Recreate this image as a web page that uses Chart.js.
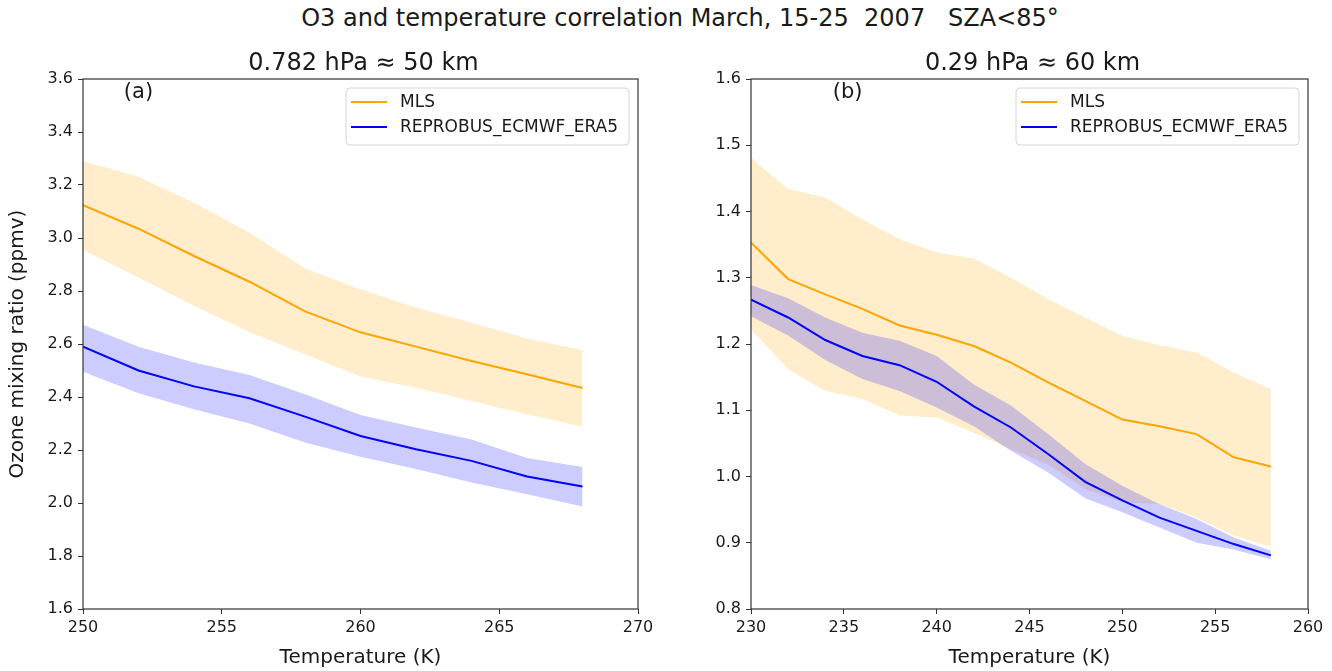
<!DOCTYPE html>
<html>
<head>
<meta charset="utf-8">
<script src="https://cdn.jsdelivr.net/npm/chart.js@4.4.1/dist/chart.umd.min.js"></script>
<style>
  html, body { margin: 0; padding: 0; background: #fff; }
  #wrap { position: relative; width: 1332px; height: 671px; overflow: hidden; }
  #title {
    position: absolute; top: 4px; left: 680px; transform: translateX(-50%);
    font: 24px "DejaVu Sans", sans-serif; line-height: 28px; color: #1a1a1a;
    white-space: pre;
  }
  canvas { position: absolute; top: 0; }
  #cA { left: 0; }
  #cB { left: 666px; }
</style>
</head>
<body>
<div id="wrap">
  <div id="title">O3 and temperature correlation March, 15-25  2007   SZA&lt;85°</div>
  <canvas id="cA" width="666" height="671"></canvas>
  <canvas id="cB" width="666" height="671"></canvas>
</div>
<script>
// --- data: panel (a) 0.782 hPa ---
const tempA   = [250, 252, 254, 256, 258, 260, 262, 264, 266, 268];
const mlsA    = [3.124, 3.035, 2.932, 2.835, 2.723, 2.644, 2.590, 2.536, 2.486, 2.434];
const mlsA_hi = [3.290, 3.231, 3.133, 3.020, 2.885, 2.807, 2.738, 2.680, 2.621, 2.576];
const mlsA_lo = [2.955, 2.851, 2.744, 2.644, 2.561, 2.477, 2.435, 2.385, 2.335, 2.288];
const eraA    = [2.590, 2.500, 2.440, 2.395, 2.326, 2.253, 2.203, 2.159, 2.100, 2.062];
const eraA_hi = [2.673, 2.590, 2.530, 2.483, 2.410, 2.332, 2.285, 2.240, 2.170, 2.136];
const eraA_lo = [2.495, 2.414, 2.354, 2.300, 2.228, 2.175, 2.128, 2.077, 2.033, 1.987];

// --- data: panel (b) 0.29 hPa ---
const tempB   = [230, 232, 234, 236, 238, 240, 242, 244, 246, 248, 250, 252, 254, 256, 258];
const mlsB    = [1.353, 1.298, 1.275, 1.253, 1.228, 1.214, 1.197, 1.172, 1.142, 1.114, 1.086, 1.076, 1.064, 1.029, 1.015];
const mlsB_hi = [1.481, 1.434, 1.421, 1.388, 1.358, 1.338, 1.329, 1.300, 1.268, 1.240, 1.212, 1.198, 1.187, 1.157, 1.132];
const mlsB_lo = [1.222, 1.162, 1.129, 1.117, 1.092, 1.089, 1.066, 1.041, 1.018, 0.981, 0.961, 0.958, 0.938, 0.911, 0.894];
const eraB    = [1.267, 1.240, 1.206, 1.182, 1.168, 1.143, 1.106, 1.074, 1.034, 0.992, 0.964, 0.938, 0.918, 0.898, 0.881];
const eraB_hi = [1.289, 1.269, 1.240, 1.217, 1.205, 1.182, 1.139, 1.107, 1.064, 1.019, 0.986, 0.958, 0.936, 0.908, 0.888];
const eraB_lo = [1.242, 1.213, 1.176, 1.147, 1.129, 1.104, 1.076, 1.039, 1.006, 0.967, 0.946, 0.923, 0.900, 0.890, 0.875];

const seriesNames = ['MLS', 'REPROBUS_ECMWF_ERA5'];

const ORANGE = '#ffa500';
const BLUE = '#0000ff';
const FONT = '"DejaVu Sans", sans-serif';
const INK = '#1a1a1a';

const pts = (xs, ys) => xs.map((x, i) => ({ x: x, y: ys[i] }));

// frame, subtitle, panel tag and boxed legend (matplotlib look)
const panelDeco = {
    id: 'panelDeco',
    afterDraw(chart, args, o) {
        const { ctx, chartArea: a, scales } = chart;
        ctx.save();
        ctx.strokeStyle = '#333';
        ctx.lineWidth = 1.2;
        ctx.strokeRect(a.left, a.top, a.right - a.left, a.bottom - a.top);

        ctx.fillStyle = INK;
        ctx.textAlign = 'center';
        ctx.textBaseline = 'middle';
        ctx.font = '24px ' + FONT;
        ctx.fillText(o.subtitle, (a.left + a.right) / 2 + 3, 64);

        ctx.font = '21px ' + FONT;
        ctx.fillText(o.tag, scales.x.getPixelForValue(o.tagAt[0]), scales.y.getPixelForValue(o.tagAt[1]));

        // legend
        const items = chart.data.datasets.filter(d => d.label);
        const w = 283, h = 57;
        const bx = a.right - 9 - w, by = a.top + 9;
        ctx.beginPath();
        if (ctx.roundRect) ctx.roundRect(bx, by, w, h, 4); else ctx.rect(bx, by, w, h);
        ctx.fillStyle = 'rgba(255,255,255,0.8)';
        ctx.fill();
        ctx.strokeStyle = '#d6d6d6';
        ctx.lineWidth = 1;
        ctx.stroke();
        ctx.font = '17px ' + FONT;
        ctx.textAlign = 'left';
        items.forEach((d, i) => {
            const y = by + 14 + i * 25;
            ctx.strokeStyle = d.borderColor;
            ctx.lineWidth = 2;
            ctx.beginPath();
            ctx.moveTo(bx + 5, y);
            ctx.lineTo(bx + 41, y);
            ctx.stroke();
            ctx.fillStyle = INK;
            ctx.fillText(d.label, bx + 54, y + 1);
        });
        ctx.restore();
    }
};

function makePanel(id, temps, mls, mlsLo, mlsHi, era, eraLo, eraHi, ax) {
    const band = (data, fillTo, color, order) => ({
        data: pts(temps, data), borderWidth: 0, pointRadius: 0,
        fill: fillTo === null ? false : fillTo, backgroundColor: color, order: order
    });
    return new Chart(document.getElementById(id), {
        type: 'line',
        data: {
            datasets: [
                band(mlsLo, null, 'transparent', 3),                 // 0
                band(mlsHi, 0, 'rgba(255,165,0,0.2)', 3),           // 1
                band(eraLo, null, 'transparent', 2),                 // 2
                band(eraHi, 2, 'rgba(0,0,255,0.2)', 2),             // 3
                { label: seriesNames[0], data: pts(temps, mls), borderColor: ORANGE, borderWidth: 2,
                  pointRadius: 0, fill: false, order: 1 },
                { label: seriesNames[1], data: pts(temps, era), borderColor: BLUE, borderWidth: 2,
                  pointRadius: 0, fill: false, order: 0 }
            ]
        },
        options: {
            responsive: false,
            animation: false,
            layout: { padding: { top: 79, right: ax.padRight, left: 0, bottom: 0 } },
            plugins: {
                legend: { display: false },
                tooltip: { enabled: false },
                panelDeco: { subtitle: ax.subtitle, tag: ax.tag, tagAt: ax.tagAt }
            },
            scales: {
                x: {
                    type: 'linear', min: ax.xMin, max: ax.xMax,
                    ticks: { stepSize: 5, maxRotation: 0, padding: 4, color: INK, font: { family: FONT, size: 16 } },
                    grid: { drawOnChartArea: false, tickLength: 5, color: '#333' },
                    border: { display: false },
                    title: { display: ax.xTitle, text: 'Temperature (K)', color: INK,
                             font: { family: FONT, size: 20 }, padding: { top: 0, bottom: 1 } },
                    afterFit: s => { s.height = 62; }
                },
                y: {
                    min: ax.yMin, max: ax.yMax,
                    ticks: { stepSize: ax.yStep, padding: 5, color: INK, font: { family: FONT, size: 16 },
                             callback: v => v.toFixed(1) },
                    grid: { drawOnChartArea: false, tickLength: 5, color: '#333' },
                    border: { display: false },
                    title: { display: !!ax.yTitle, text: ax.yTitle || '', color: INK,
                             font: { family: FONT, size: 20 }, padding: { top: 6, bottom: 0 } },
                    afterFit: s => { s.width = ax.yWidth; }
                }
            }
        },
        plugins: [panelDeco]
    });
}

makePanel('cA', tempA, mlsA, mlsA_lo, mlsA_hi, eraA, eraA_lo, eraA_hi, {
    xMin: 250, xMax: 270, yMin: 1.6, yMax: 3.6, yStep: 0.2,
    yWidth: 83, padRight: 28, xTitle: true, yTitle: 'Ozone mixing ratio (ppmv)',
    subtitle: '0.782 hPa ≈ 50 km', tag: '(a)', tagAt: [252, 3.547]
});

makePanel('cB', tempB, mlsB, mlsB_lo, mlsB_hi, eraB, eraB_lo, eraB_hi, {
    xMin: 230, xMax: 260, yMin: 0.8, yMax: 1.6, yStep: 0.1,
    yWidth: 85, padRight: 24, xTitle: true, yTitle: null,
    subtitle: '0.29 hPa ≈ 60 km', tag: '(b)', tagAt: [235.2, 1.579]
});
</script>
</body>
</html>
